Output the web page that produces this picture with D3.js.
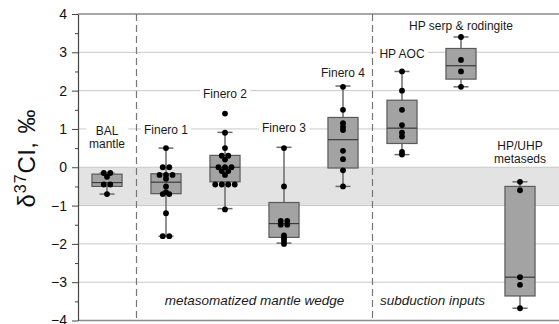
<!DOCTYPE html>
<html>
<head>
<meta charset="utf-8">
<script src="https://cdn.jsdelivr.net/npm/d3@7"></script>
<style>
  body { margin: 0; background: #fff; }
  svg { display: block; font-family: "Liberation Sans", Arial, sans-serif; }
</style>
</head>
<body>
<svg width="559" height="324"></svg>
<script>
// groups along x
const categories = ['BAL mantle', 'Finero 1', 'Finero 2', 'Finero 3', 'Finero 4', 'HP AOC', 'HP serp & rodingite', 'HP/UHP metaseds'];
const labelLines = [['BAL', 'mantle'], ['Finero 1'], ['Finero 2'], ['Finero 3'], ['Finero 4'], ['HP AOC'], ['HP serp & rodingite'], ['HP/UHP', 'metaseds']];

// individual samples (δ37Cl, ‰)
const samples = [
    [-0.15, -0.15, -0.25, -0.45, -0.45, -0.7],
    [0.5, 0.0, 0.0, -0.2, -0.2, -0.2, -0.3, -0.5, -0.65, -0.7, -0.7, -1.2, -1.8, -1.8],
    [1.4, 0.9, 0.5, 0.3, 0.3, 0.2, 0.0, 0.0, 0.0, -0.1, -0.1, -0.2, -0.45, -0.45, -0.45, -0.45, -1.1],
    [0.5, -0.5, -1.4, -1.4, -1.5, -1.5, -1.78, -1.85, -1.92, -2.0],
    [2.1, 1.5, 1.15, 1.05, 0.97, 0.43, 0.21, -0.08, -0.5],
    [2.5, 2.0, 1.5, 1.1, 0.9, 0.8, 0.4, 0.33],
    [3.4, 2.8, 2.5, 2.1],
    [-0.38, -0.6, -2.87, -3.07, -3.68]
];

// box statistics
const q1 = [-0.5, -0.69, -0.38, -1.83, -0.02, 0.62, 2.3, -3.36];
const medians = [-0.4, -0.39, 0.0, -1.47, 0.72, 1.02, 2.65, -2.87];
const q3 = [-0.18, -0.17, 0.31, -0.92, 1.3, 1.75, 3.1, -0.5];
const whiskerLow = [-0.7, -1.8, -1.08, -1.98, -0.5, 0.33, 2.1, -3.68];
const whiskerHigh = [-0.15, 0.5, 0.91, 0.52, 2.12, 2.5, 3.4, -0.38];

const yTicks = [-4, -3, -2, -1, 0, 1, 2, 3, 4];
const yMinorTicks = [-3.5, -2.5, -1.5, -0.5, 0.5, 1.5, 2.5, 3.5];
const bandRange = [0, -1];
const regionLabels = ['metasomatized mantle wedge', 'subduction inputs'];

// label placement (px baselines)
const labelBaseline = [135, 134, 98, 132, 77, 58, 30, 150];

const svg = d3.select('svg');
const plotLeft = 78, plotRight = 570, plotTop = 14, plotBottom = 320.5;

const x = d3.scaleBand()
    .domain(categories)
    .range([77.5, 549.5])
    .paddingInner(0.49)
    .paddingOuter(0.245);
const y = d3.scaleLinear().domain([-4, 4]).range([plotBottom, plotTop]);
const bw = x.bandwidth();
const cx = c => x(c) + bw / 2;

// shaded band
svg.append('rect')
    .attr('x', plotLeft).attr('width', plotRight - plotLeft)
    .attr('y', y(bandRange[0])).attr('height', y(bandRange[1]) - y(bandRange[0]))
    .attr('fill', '#e3e3e3');

// grid
svg.append('g')
    .selectAll('line')
    .data(yTicks.slice(1, -1))
    .enter()
    .append('line')
    .attr('x1', plotLeft).attr('x2', plotRight)
    .attr('y1', d => y(d)).attr('y2', d => y(d))
    .attr('stroke', '#c9c9c9')
    .attr('stroke-width', 1);

// frame top & bottom
svg.append('line').attr('x1', plotLeft).attr('x2', plotRight).attr('y1', plotTop).attr('y2', plotTop)
    .attr('stroke', '#8a8a8a').attr('stroke-width', 1.5);
svg.append('line').attr('x1', plotLeft).attr('x2', plotRight).attr('y1', plotBottom).attr('y2', plotBottom)
    .attr('stroke', '#8a8a8a').attr('stroke-width', 1.5);

// dashed separators
const seps = [(cx(categories[0]) + cx(categories[1])) / 2, (cx(categories[4]) + cx(categories[5])) / 2];
svg.append('g')
    .selectAll('line')
    .data(seps)
    .enter()
    .append('line')
    .attr('x1', d => d).attr('x2', d => d)
    .attr('y1', plotTop).attr('y2', plotBottom)
    .attr('stroke', '#777')
    .attr('stroke-width', 1.2)
    .style('stroke-dasharray', '7, 4');

// group labels with white background
const labels = svg.append('g');
categories.forEach((c, i) => {
    const g = labels.append('g');
    const t = g.append('text')
        .attr('text-anchor', 'middle')
        .attr('font-size', 12)
        .attr('fill', '#1a1a1a');
    labelLines[i].forEach((line, j) => {
        t.append('tspan')
            .attr('x', cx(c))
            .attr('y', labelBaseline[i] + j * 13)
            .text(line);
    });
    const bb = t.node().getBBox();
    g.insert('rect', 'text')
        .attr('x', bb.x - 3).attr('y', bb.y)
        .attr('width', bb.width + 6).attr('height', bb.height)
        .attr('fill', '#fff');
});

// boxes
const boxes = svg.append('g').selectAll('g')
    .data(categories)
    .enter()
    .append('g');

boxes.append('line')
    .attr('x1', c => cx(c)).attr('x2', c => cx(c))
    .attr('y1', (c, i) => y(whiskerLow[i])).attr('y2', (c, i) => y(whiskerHigh[i]))
    .attr('stroke', '#6b6b6b').attr('stroke-width', 1.5);

boxes.append('line')
    .attr('x1', c => cx(c) - 7.5).attr('x2', c => cx(c) + 7.5)
    .attr('y1', (c, i) => y(whiskerLow[i])).attr('y2', (c, i) => y(whiskerLow[i]))
    .attr('stroke', '#6b6b6b').attr('stroke-width', 1.5);
boxes.append('line')
    .attr('x1', c => cx(c) - 7.5).attr('x2', c => cx(c) + 7.5)
    .attr('y1', (c, i) => y(whiskerHigh[i])).attr('y2', (c, i) => y(whiskerHigh[i]))
    .attr('stroke', '#6b6b6b').attr('stroke-width', 1.5);

boxes.append('rect')
    .attr('x', c => x(c))
    .attr('width', bw)
    .attr('y', (c, i) => y(q3[i]))
    .attr('height', (c, i) => y(q1[i]) - y(q3[i]))
    .attr('fill', '#a3a3a3')
    .attr('stroke', '#5a5a5a')
    .attr('stroke-width', 1.2);

boxes.append('line')
    .attr('x1', c => x(c)).attr('x2', c => x(c) + bw)
    .attr('y1', (c, i) => y(medians[i])).attr('y2', (c, i) => y(medians[i]))
    .attr('stroke', '#3a3a3a').attr('stroke-width', 1.2);

// points, equal values dodged side by side
const dots = [];
categories.forEach((c, i) => {
    const groups = d3.group(samples[i], v => v);
    groups.forEach(vals => {
        vals.forEach((v, j) => {
            dots.push({ c: c, v: v, dx: (j - (vals.length - 1) / 2) * 6.5 });
        });
    });
});
svg.append('g')
    .selectAll('circle')
    .data(dots)
    .enter()
    .append('circle')
    .attr('cx', d => cx(d.c) + d.dx)
    .attr('cy', d => y(d.v))
    .attr('r', 2.9)
    .attr('fill', '#000');

// region labels
const regionX = [(seps[0] + seps[1]) / 2, seps[1] + 60];
svg.append('g')
    .selectAll('text')
    .data(regionLabels)
    .enter()
    .append('text')
    .attr('x', (d, i) => regionX[i])
    .attr('y', 305)
    .attr('text-anchor', 'middle')
    .attr('font-size', 13.5)
    .attr('font-style', 'italic')
    .attr('fill', '#1a1a1a')
    .text(d => d);

// y axis
const yAxis = svg.append('g')
    .attr('transform', `translate(${plotLeft},0)`)
    .call(d3.axisLeft(y).tickValues(yTicks).tickSize(6).tickSizeOuter(0).tickPadding(5));
yAxis.select('.domain').attr('stroke', '#444').attr('stroke-width', 1.2);
yAxis.selectAll('.tick line').attr('stroke', '#444');
yAxis.selectAll('.tick text')
    .attr('font-size', 14)
    .attr('fill', '#111')
    .style('font-family', '"Liberation Sans", Arial, sans-serif');

svg.append('g')
    .attr('transform', `translate(${plotLeft},0)`)
    .call(d3.axisLeft(y).tickValues(yMinorTicks).tickSize(3).tickFormat(''))
    .call(g => g.select('.domain').remove())
    .selectAll('.tick line').attr('stroke', '#444');

// y title
const title = svg.append('text')
    .attr('transform', 'translate(35,158) rotate(-90)')
    .attr('text-anchor', 'middle')
    .attr('font-size', 24)
    .attr('letter-spacing', 1)
    .attr('fill', '#111');
title.append('tspan').text('δ');
title.append('tspan').attr('font-size', 16).attr('dy', -9).text('37');
title.append('tspan').attr('dy', 9).text('Cl, ‰');
</script>
</body>
</html>
